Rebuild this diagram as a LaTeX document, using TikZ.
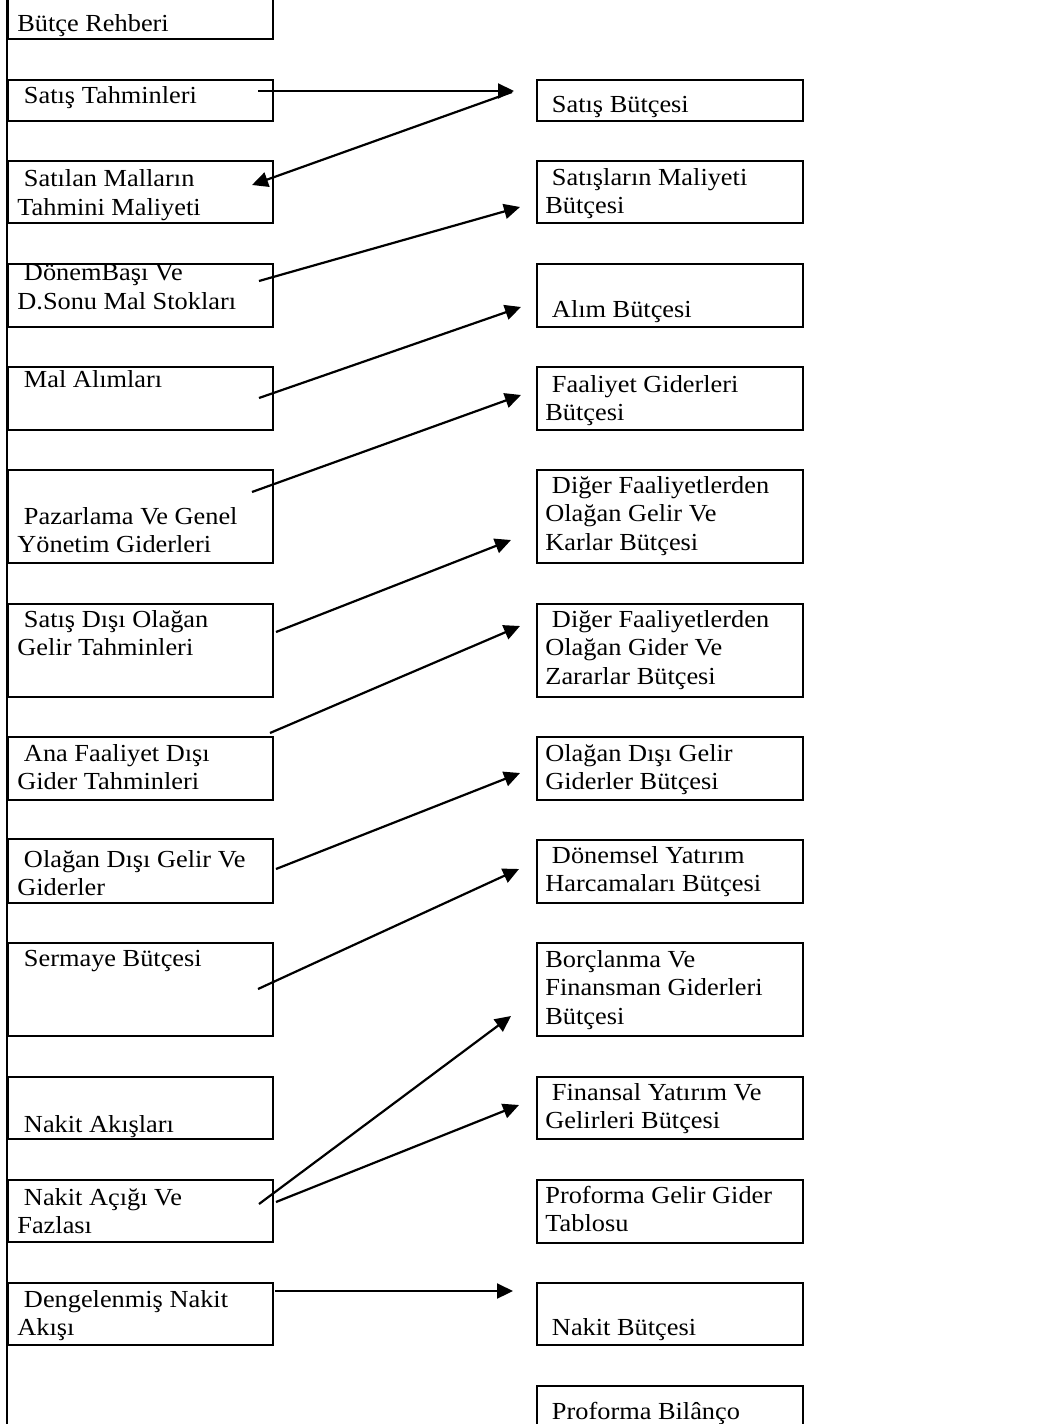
\documentclass[tikz,border=0pt]{standalone}
\usepackage{fontspec}
\setmainfont{Liberation Serif}[FakeStretch=1.075]
\usetikzlibrary{arrows.meta}
\newcommand\txtlines[1]{\begin{tabular}[t]{@{}l@{}}#1\end{tabular}}
\begin{document}
\begin{tikzpicture}[x=0.5pt,y=-0.5pt,
  lbox/.style={draw, line width=1pt, inner sep=0pt, anchor=north west, minimum width=132.5pt},
  rbox/.style={draw, line width=1pt, inner sep=0pt, anchor=north west, minimum width=133pt},
  label/.style={anchor=base west, inner sep=0pt, font=\fontsize{12.25}{14.25}\selectfont},
  arr/.style={line width=1.1pt, -{Triangle[length=8pt,width=7.5pt]}},
  trunk/.style={line width=1pt}]
\useasboundingbox (0,0) rectangle (1061,1424);
\clip (0,0) rectangle (1061,1424);

% left column: inputs
\node[lbox, minimum height=29pt]   (L1)  at (7,-20)  {};
\node[lbox, minimum height=20.25pt](L2)  at (7,79)   {};
\node[lbox, minimum height=31pt]   (L3)  at (7,160)  {};
\node[lbox, minimum height=31.5pt] (L4)  at (7,263)  {};
\node[lbox, minimum height=31.5pt] (L5)  at (7,366)  {};
\node[lbox, minimum height=46.5pt] (L6)  at (7,469)  {};
\node[lbox, minimum height=46.5pt] (L7)  at (7,603)  {};
\node[lbox, minimum height=31.5pt] (L8)  at (7,736)  {};
\node[lbox, minimum height=32pt]   (L9)  at (7,838)  {};
\node[lbox, minimum height=46.5pt] (L10) at (7,942)  {};
\node[lbox, minimum height=31pt]   (L11) at (7,1076) {};
\node[lbox, minimum height=31pt]   (L12) at (7,1179) {};
\node[lbox, minimum height=31pt]   (L13) at (7,1282) {};

% right column: budgets
\node[rbox, minimum height=20.5pt] (R1)  at (536,79)   {};
\node[rbox, minimum height=31pt]   (R2)  at (536,160)  {};
\node[rbox, minimum height=31.5pt] (R3)  at (536,263)  {};
\node[rbox, minimum height=31.5pt] (R4)  at (536,366)  {};
\node[rbox, minimum height=46.5pt] (R5)  at (536,469)  {};
\node[rbox, minimum height=46.5pt] (R6)  at (536,603)  {};
\node[rbox, minimum height=31.5pt] (R7)  at (536,736)  {};
\node[rbox, minimum height=31.5pt] (R8)  at (536,839)  {};
\node[rbox, minimum height=46.5pt] (R9)  at (536,942)  {};
\node[rbox, minimum height=31pt]   (R10) at (536,1076) {};
\node[rbox, minimum height=31.5pt] (R11) at (536,1179) {};
\node[rbox, minimum height=31pt]   (R12) at (536,1282) {};
\node[rbox, minimum height=30pt]   (R13) at (536,1385) {};

% vertical trunk along the left column
\coordinate (trunkTop) at (7,0);
\coordinate (trunkBot) at (7,1424);
\draw[trunk] (trunkTop) -- (trunkBot);

% left texts
\node[label] (tL1)  at (17,32)    {\txtlines{Bütçe Rehberi}};
\node[label] (tL2)  at (17,103.5) {\txtlines{\ Satış Tahminleri}};
\node[label] (tL3)  at (17,186.5) {\txtlines{\ Satılan Malların\\Tahmini Maliyeti}};
\node[label] (tL4)  at (17,280.5) {\txtlines{\ DönemBaşı Ve\\D.Sonu Mal Stokları}};
\node[label] (tL5)  at (17,387)   {\txtlines{\ Mal Alımları}};
\node[label] (tL6)  at (17,524)   {\txtlines{\ Pazarlama Ve Genel\\Yönetim Giderleri}};
\node[label] (tL7)  at (17,627)   {\txtlines{\ Satış Dışı Olağan\\Gelir Tahminleri}};
\node[label] (tL8)  at (17,761)   {\txtlines{\ Ana Faaliyet Dışı\\Gider Tahminleri}};
\node[label] (tL9)  at (17,867)   {\txtlines{\ Olağan Dışı Gelir Ve\\Giderler}};
\node[label] (tL10) at (17,966)   {\txtlines{\ Sermaye Bütçesi}};
\node[label] (tL11) at (17,1132)  {\txtlines{\ Nakit Akışları}};
\node[label] (tL12) at (17,1205)  {\txtlines{\ Nakit Açığı Ve\\Fazlası}};
\node[label] (tL13) at (17,1307)  {\txtlines{\ Dengelenmiş Nakit\\Akışı}};

% right texts
\node[label] (tR1)  at (545,112)  {\txtlines{\ Satış Bütçesi}};
\node[label] (tR2)  at (545,185)  {\txtlines{\ Satışların Maliyeti\\Bütçesi}};
\node[label] (tR3)  at (545,317)  {\txtlines{\ Alım Bütçesi}};
\node[label] (tR4)  at (545,392)  {\txtlines{\ Faaliyet Giderleri\\Bütçesi}};
\node[label] (tR5)  at (545,493)  {\txtlines{\ Diğer Faaliyetlerden\\Olağan Gelir Ve\\Karlar Bütçesi}};
\node[label] (tR6)  at (545,627)  {\txtlines{\ Diğer Faaliyetlerden\\Olağan Gider Ve\\Zararlar Bütçesi}};
\node[label] (tR7)  at (545,761)  {\txtlines{Olağan Dışı Gelir\\Giderler Bütçesi}};
\node[label] (tR8)  at (545,863)  {\txtlines{\ Dönemsel Yatırım\\Harcamaları Bütçesi}};
\node[label] (tR9)  at (545,967)  {\txtlines{Borçlanma Ve\\Finansman Giderleri\\Bütçesi}};
\node[label] (tR10) at (545,1100) {\txtlines{\ Finansal Yatırım Ve\\Gelirleri Bütçesi}};
\node[label] (tR11) at (545,1203) {\txtlines{Proforma Gelir Gider\\Tablosu}};
\node[label] (tR12) at (545,1335) {\txtlines{\ Nakit Bütçesi}};
\node[label] (tR13) at (545,1419) {\txtlines{\ Proforma Bilânço}};

% connector end points
\coordinate (s1)  at (258,91);   \coordinate (e1)  at (514,91);
\coordinate (s2)  at (512,92);   \coordinate (e2)  at (252,185);
\coordinate (s3)  at (259,281);  \coordinate (e3)  at (520,207);
\coordinate (s4)  at (259,398);  \coordinate (e4)  at (521,307);
\coordinate (s5)  at (252,492);  \coordinate (e5)  at (521,395);
\coordinate (s6)  at (276,632);  \coordinate (e6)  at (511,540);
\coordinate (s7)  at (270,733);  \coordinate (e7)  at (520,626);
\coordinate (s8)  at (276,869);  \coordinate (e8)  at (520,773);
\coordinate (s9)  at (258,989);  \coordinate (e9)  at (519,869);
\coordinate (s10) at (259,1204); \coordinate (e10) at (511,1016);
\coordinate (s11) at (276,1202); \coordinate (e11) at (519,1105);
\coordinate (s12) at (275,1291); \coordinate (e12) at (513,1291);

\draw[arr] (s1) -- (e1);
\draw[arr] (s2) -- (e2);
\draw[arr] (s3) -- (e3);
\draw[arr] (s4) -- (e4);
\draw[arr] (s5) -- (e5);
\draw[arr] (s6) -- (e6);
\draw[arr] (s7) -- (e7);
\draw[arr] (s8) -- (e8);
\draw[arr] (s9) -- (e9);
\draw[arr] (s10) -- (e10);
\draw[arr] (s11) -- (e11);
\draw[arr] (s12) -- (e12);
\end{tikzpicture}
\end{document}
